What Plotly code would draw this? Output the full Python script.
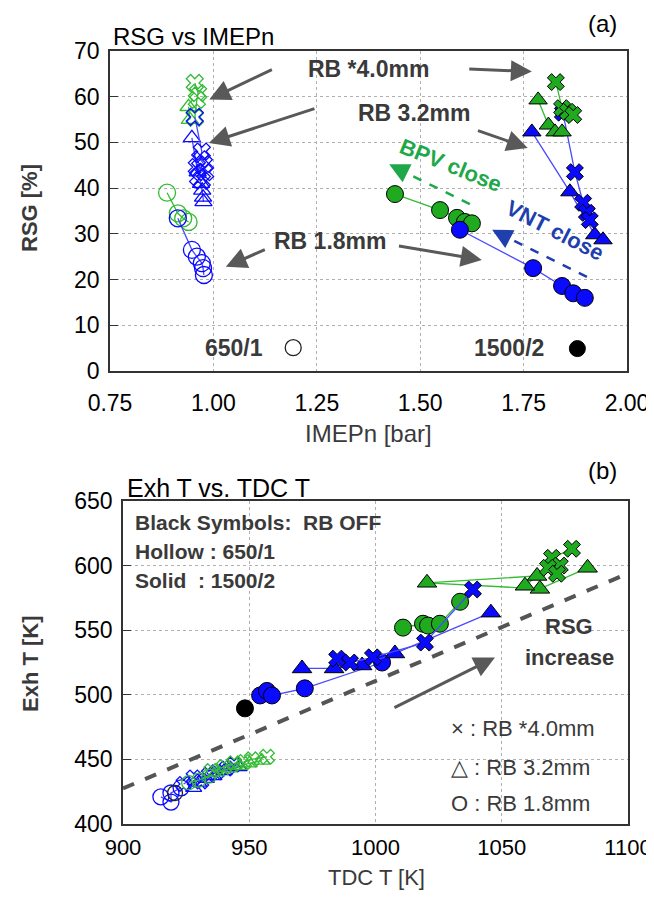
import plotly.graph_objects as go

# target page is 654x898; the html body adds an 8px margin, so the figure is drawn 8px in
PAGE_W, PAGE_H, OFF = 654, 898, 8
W, H = PAGE_W - OFF, PAGE_H - 2 * OFF

# ---------------- Panel (a): RSG vs IMEPn ----------------
# hollow = 650/1, solid = 1500/2
a_hg_x_imep = [0.955, 0.963, 0.960, 0.955]
a_hg_x_rsg = [63.0, 60.8, 59.3, 55.4]
a_hg_t_imep = [0.940, 0.943]
a_hg_t_rsg = [57.8, 55.0]
a_hg_c_imep = [0.888, 0.914, 0.927, 0.940]
a_hg_c_rsg = [39.0, 34.5, 33.4, 32.6]

a_hb_x_imep = [0.955, 0.972, 0.968, 0.977, 0.960, 0.980, 0.963, 0.972]
a_hb_x_rsg = [55.6, 48.0, 46.3, 45.3, 44.6, 43.5, 42.4, 41.6]
a_hb_t_imep = [0.948, 0.962, 0.970, 0.973, 0.975, 0.976]
a_hb_t_rsg = [51.0, 43.5, 41.0, 39.5, 38.0, 37.0]
a_hb_c_imep = [0.914, 0.948, 0.960, 0.972, 0.975, 0.977]
a_hb_c_rsg = [33.4, 26.5, 25.0, 23.6, 22.5, 21.0]

a_sg_x_imep = [1.828, 1.843, 1.857, 1.870]
a_sg_x_rsg = [63.2, 57.5, 56.7, 56.0]
a_sg_t_imep = [1.785, 1.810, 1.826, 1.843]
a_sg_t_rsg = [59.3, 53.8, 52.3, 52.3]
a_sg_c_imep = [1.439, 1.548, 1.589, 1.608, 1.625]
a_sg_c_rsg = [38.7, 35.2, 33.5, 32.6, 32.3]

a_sb_x_imep = [1.845, 1.874, 1.894, 1.903, 1.910]
a_sb_x_rsg = [56.5, 43.5, 36.8, 34.6, 33.0]
a_sb_t_imep = [1.770, 1.862, 1.922, 1.942]
a_sb_t_rsg = [52.3, 39.2, 29.8, 28.7]
a_sb_c_imep = [1.596, 1.773, 1.843, 1.870, 1.898]
a_sb_c_rsg = [30.9, 22.5, 18.6, 17.0, 16.0]

a_key_hollow = (1.193, 5.1)
a_key_solid = (1.880, 4.9)

a_xticks = [0.75, 1.00, 1.25, 1.50, 1.75, 2.00]
a_yticks = [0, 10, 20, 30, 40, 50, 60, 70]

# ---------------- Panel (b): Exh T vs TDC T ----------------
b_hb_c_tdc = [915, 919, 919, 923]
b_hb_c_exh = [421, 417, 424, 428]
b_hb_x_tdc = [924, 928, 931, 934, 937, 941, 944]
b_hb_x_exh = [431, 436, 433, 438, 440, 443, 446]
b_hb_t_tdc = [928, 930, 933, 936, 940, 946]
b_hb_t_exh = [428, 432, 435, 437, 441, 444]
b_hg_c_tdc = [926, 930, 934]
b_hg_c_exh = [432, 434, 437]
b_hg_x_tdc = [935, 940, 944, 948, 951, 957]
b_hg_x_exh = [441, 444, 447, 448, 450, 452]
b_hg_t_tdc = [937, 942, 946, 950, 955]
b_hg_t_exh = [440, 443, 445, 447, 449]
b_hk_c = (920.6, 424.0)

b_sg_t_tdc = [1084.0, 1065.1, 1020.4, 1064.0, 1059.2]
b_sg_t_exh = [598.3, 582.0, 586.7, 592.0, 584.4]
b_sg_x_tdc = [1077.8, 1069.9, 1073.0, 1068.3, 1071.9]
b_sg_x_exh = [613.0, 606.0, 600.0, 598.3, 593.7]
b_sg_c_tdc = [1010.9, 1018.8, 1020.8, 1025.5, 1033.5]
b_sg_c_exh = [552.0, 555.0, 553.6, 555.0, 572.0]

b_sb_x_tdc = [984.8, 989.9, 999.0, 1019.6, 1038.6]
b_sb_x_exh = [528.0, 525.0, 529.0, 540.4, 581.5]
b_sb_t_tdc = [970.9, 983.6, 994.7, 1007.7, 1045.7]
b_sb_t_exh = [520.4, 520.4, 522.7, 532.0, 563.6]
b_sb_c_tdc = [954.3, 957.0, 959.0, 972.0, 1002.6]
b_sb_c_exh = [499.5, 503.0, 499.5, 505.0, 525.0]
b_sk_c = (948.3, 489.5)

b_xticks = [900, 950, 1000, 1050, 1100]
b_yticks = [400, 450, 500, 550, 600, 650]

GREEN = "#1faa1f"
GREEN_L = "#33bb33"
BLUE = "#0a0aff"
BLUE_L = "#4a4aff"
GRAY = "#595959"
TXT = "#3a3a3a"
NARROW = "Liberation Sans Narrow, Arial Narrow, Liberation Sans, Arial"
BOLD = "Liberation Sans, Arial"

fig = go.Figure()


def add(x, y, color, lcolor, symbol, size, solid, xa, ya, line=True):
    if solid:
        marker = dict(symbol=symbol, size=size, color=color,
                      line=dict(color="black", width=1))
    else:
        marker = dict(symbol=symbol + "-open", size=size, color=color,
                      line=dict(color=color, width=1.3))
    fig.add_trace(go.Scatter(
        x=x, y=y, mode="lines+markers" if line else "markers",
        line=dict(color=lcolor, width=1.3), marker=marker,
        xaxis=xa, yaxis=ya, showlegend=False, hoverinfo="skip",
        cliponaxis=False))


# panel (a) traces
add(a_hg_c_imep, a_hg_c_rsg, GREEN_L, GREEN_L, "circle", 17, False, "x", "y")
add(a_hg_t_imep, a_hg_t_rsg, GREEN_L, GREEN_L, "triangle-up", 15, False, "x", "y")
add(a_hg_x_imep, a_hg_x_rsg, GREEN_L, GREEN_L, "x", 15, False, "x", "y")
add(a_hb_c_imep, a_hb_c_rsg, BLUE, BLUE_L, "circle", 17, False, "x", "y")
add(a_hb_t_imep, a_hb_t_rsg, BLUE, BLUE_L, "triangle-up", 15, False, "x", "y")
add(a_hb_x_imep, a_hb_x_rsg, BLUE, BLUE_L, "x", 15, False, "x", "y")

add(a_sg_c_imep, a_sg_c_rsg, GREEN, GREEN_L, "circle", 17, True, "x", "y")
add(a_sb_c_imep, a_sb_c_rsg, BLUE, BLUE_L, "circle", 17, True, "x", "y")
add(a_sb_t_imep, a_sb_t_rsg, BLUE, BLUE_L, "triangle-up", 16, True, "x", "y")
add(a_sb_x_imep, a_sb_x_rsg, BLUE, BLUE_L, "x", 15, True, "x", "y")
add(a_sg_t_imep, a_sg_t_rsg, GREEN, GREEN_L, "triangle-up", 16, True, "x", "y")
add(a_sg_x_imep, a_sg_x_rsg, GREEN, GREEN_L, "x", 15, True, "x", "y")

add([a_key_hollow[0]], [a_key_hollow[1]], "#222222", "#222222", "circle", 16, False, "x", "y", False)
add([a_key_solid[0]], [a_key_solid[1]], "black", "black", "circle", 16, True, "x", "y", False)

# panel (b) traces
add(b_hb_c_tdc, b_hb_c_exh, BLUE, BLUE_L, "circle", 16, False, "x2", "y2")
add([b_hk_c[0]], [b_hk_c[1]], "#222222", "#222222", "circle", 15, False, "x2", "y2", False)
add(b_hb_t_tdc, b_hb_t_exh, BLUE, BLUE_L, "triangle-up", 14, False, "x2", "y2")
add(b_hb_x_tdc, b_hb_x_exh, BLUE, BLUE_L, "x", 13, False, "x2", "y2")
add(b_hg_c_tdc, b_hg_c_exh, GREEN_L, GREEN_L, "circle", 14, False, "x2", "y2")
add(b_hg_t_tdc, b_hg_t_exh, GREEN_L, GREEN_L, "triangle-up", 14, False, "x2", "y2")
add(b_hg_x_tdc, b_hg_x_exh, GREEN_L, GREEN_L, "x", 13, False, "x2", "y2")

add(b_sg_t_tdc, b_sg_t_exh, GREEN, GREEN_L, "triangle-up", 17, True, "x2", "y2")
add(b_sg_x_tdc, b_sg_x_exh, GREEN, GREEN_L, "x", 15, True, "x2", "y2")
add(b_sg_c_tdc, b_sg_c_exh, GREEN, GREEN_L, "circle", 17, True, "x2", "y2")
add(b_sb_c_tdc, b_sb_c_exh, BLUE, BLUE_L, "circle", 17, True, "x2", "y2")
add(b_sb_t_tdc, b_sb_t_exh, BLUE, BLUE_L, "triangle-up", 17, True, "x2", "y2")
add(b_sb_x_tdc, b_sb_x_exh, BLUE, BLUE_L, "x", 15, True, "x2", "y2")
add([b_sk_c[0]], [b_sk_c[1]], "black", "black", "circle", 17, True, "x2", "y2", False)


def px(x):
    return (x - OFF) / W


def py(y):
    return 1 - (y - OFF) / H


axis_common = dict(
    showline=True, linecolor="#333333", linewidth=1.5, mirror=True,
    showgrid=True, gridcolor="#b0b0b0", griddash="dot", gridwidth=1.3,
    zeroline=False, automargin=False,
)
tick23 = dict(family=NARROW, size=23, color="black")
tick22 = dict(family=NARROW, size=22, color="black")

fig.update_layout(
    width=W, height=H, margin=dict(l=0, r=0, t=0, b=0, autoexpand=False),
    paper_bgcolor="white", plot_bgcolor="white", showlegend=False,
    xaxis=dict(domain=[px(110), px(627)], range=[0.75, 2.0], tickvals=a_xticks,
               ticktext=[f"{v:.2f}" for v in a_xticks], ticks="", anchor="y",
               ticklabelstandoff=11, tickfont=tick23, **axis_common),
    yaxis=dict(domain=[py(371), py(51)], range=[0, 70], tickvals=a_yticks,
               ticks="inside", ticklen=8, tickcolor="#333333", anchor="x",
               ticklabelstandoff=4, tickfont=tick23, **axis_common),
    xaxis2=dict(domain=[px(123), px(628)], range=[900, 1100], tickvals=b_xticks,
                ticks="", anchor="y2", ticklabelstandoff=3, tickfont=tick22,
                **axis_common),
    yaxis2=dict(domain=[py(824), py(501)], range=[400, 650], tickvals=b_yticks,
                ticks="inside", ticklen=8, tickcolor="#333333", anchor="x2",
                ticklabelstandoff=4, tickfont=tick23, **axis_common),
)

ann = []


def text(x, y, s, size=20, bold=True, color=TXT, xref="x", yref="y",
         xanchor="center", angle=0, family=BOLD):
    ann.append(dict(x=x, y=y, xref=xref, yref=yref, text=(f"<b>{s}</b>" if bold else s),
                    showarrow=False, xanchor=xanchor, yanchor="middle", textangle=angle,
                    font=dict(family=family, size=size, color=color)))


def arrow(x0, y0, x1, y1, xref="x", yref="y", color=GRAY, width=3, head=2, size=1.4):
    ann.append(dict(x=x1, y=y1, ax=x0, ay=y0, xref=xref, yref=yref,
                    axref=xref, ayref=yref, text="", showarrow=True,
                    arrowhead=head, arrowsize=size, arrowwidth=width,
                    arrowcolor=color, standoff=0))


# titles and axis labels
text(px(111), py(37), "RSG vs IMEPn", size=24, bold=False, color="black",
     xref="paper", yref="paper", xanchor="left", family=NARROW)
text(px(125), py(488), "Exh T vs. TDC T", size=25, bold=False, color="black",
     xref="paper", yref="paper", xanchor="left", family=NARROW)
text(px(602), py(24), "(a)", size=24, bold=False, color="black",
     xref="paper", yref="paper", family=NARROW)
text(px(602), py(470), "(b)", size=24, bold=False, color="black",
     xref="paper", yref="paper", family=NARROW)
text(px(30), py(208), "RSG [%]", size=22, color=TXT, xref="paper", yref="paper", angle=-90)
text(px(368), py(433), "IMEPn [bar]", size=24, bold=False, color=TXT,
     xref="paper", yref="paper", family=NARROW)
text(px(30), py(664), "Exh T [K]", size=22, color=TXT, xref="paper", yref="paper", angle=-90)
text(px(376), py(877), "TDC T [K]", size=22, bold=False, color=TXT,
     xref="paper", yref="paper", family=NARROW)

# panel (a) annotations
text(1.375, 66.1, "RB *4.0mm", size=23)
arrow(1.145, 66.1, 0.990, 59.4)
arrow(1.615, 66.1, 1.770, 65.5)
text(1.485, 56.5, "RB 3.2mm", size=23)
arrow(1.248, 57.5, 0.989, 49.9)
arrow(1.636, 52.7, 1.760, 48.8)
text(1.282, 28.5, "RB 1.8mm", size=23)
arrow(1.128, 26.7, 1.030, 22.8)
arrow(1.445, 27.4, 1.649, 24.3)
text(1.05, 5.1, "650/1", size=23, family=NARROW)
text(1.715, 5.1, "1500/2", size=23, family=NARROW)
text(1.575, 45.0, "BPV close", size=22, color="#1fa84a", angle=22)
text(1.826, 30.8, "VNT close", size=22, color="#1f3fae", angle=27)

# dashed arrows (a)
fig.add_shape(type="line", x0=1.620, y0=36.5, x1=1.445, y1=44.3, xref="x", yref="y",
              line=dict(color="#1fa84a", width=2.5, dash="dash"))
arrow(1.445, 44.3, 1.425, 45.2, color="#1fa84a", width=2.5, head=2, size=1.6)
fig.add_shape(type="line", x0=1.903, y0=20.6, x1=1.695, y1=29.9, xref="x", yref="y",
              line=dict(color="#1f3fae", width=2.5, dash="dash"))
arrow(1.695, 29.9, 1.674, 30.9, color="#1f3fae", width=2.5, head=2, size=1.6)

# panel (b) annotations
text(904, 633, "Black Symbols:  RB OFF", size=21, xref="x2", yref="y2", xanchor="left")
text(904, 610.7, "Hollow : 650/1", size=21, xref="x2", yref="y2", xanchor="left")
text(904, 588.3, "Solid  : 1500/2", size=21, xref="x2", yref="y2", xanchor="left")
fig.add_shape(type="line", x0=900, y0=427.5, x1=1100, y1=594, xref="x2", yref="y2",
              line=dict(color="#555555", width=4, dash="dash"))
arrow(1006.9, 489.5, 1047.3, 528.9, xref="x2", yref="y2")
text(1076.5, 552.5, "RSG", size=22, xref="x2", yref="y2")
text(1077, 528.5, "increase", size=22, xref="x2", yref="y2")
text(1029.0, 474.1, "× : RB *4.0mm", size=22, bold=False, xref="x2", yref="y2", xanchor="left")
text(1029.0, 444.0, "△ : RB 3.2mm", size=22, bold=False, xref="x2", yref="y2", xanchor="left")
text(1029.0, 416.2, "O : RB 1.8mm", size=22, bold=False, xref="x2", yref="y2", xanchor="left")

fig.update_layout(annotations=ann)
fig.write_html("out.html")
